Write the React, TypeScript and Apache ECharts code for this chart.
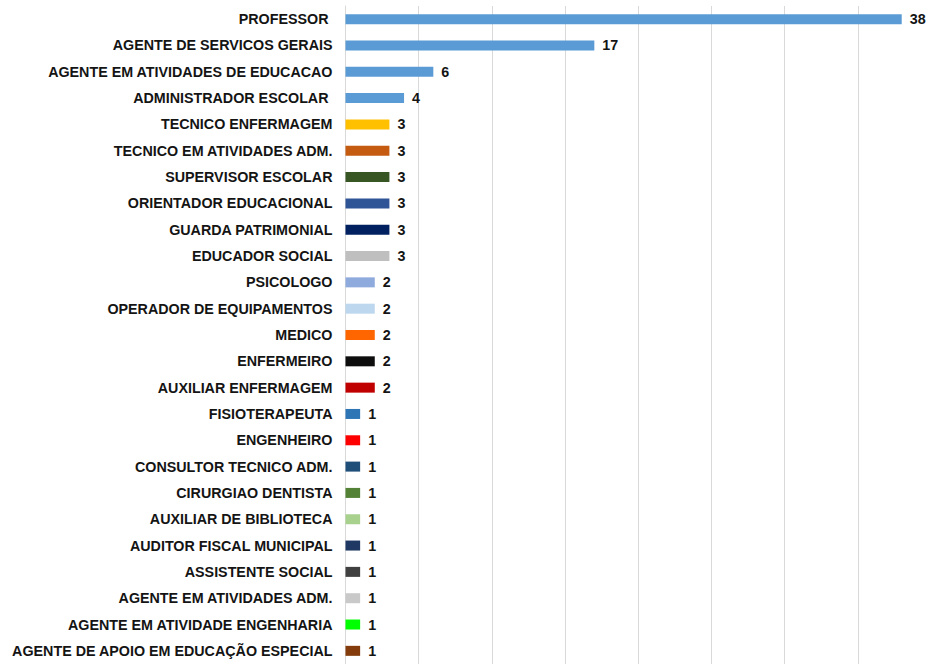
import React, { useEffect, useRef } from "react";
import * as echarts from "echarts";

const categories = [
  "PROFESSOR ",
  "AGENTE DE SERVICOS GERAIS",
  "AGENTE EM ATIVIDADES DE EDUCACAO",
  "ADMINISTRADOR ESCOLAR ",
  "TECNICO ENFERMAGEM",
  "TECNICO EM ATIVIDADES ADM.",
  "SUPERVISOR ESCOLAR",
  "ORIENTADOR EDUCACIONAL",
  "GUARDA PATRIMONIAL",
  "EDUCADOR SOCIAL",
  "PSICOLOGO",
  "OPERADOR DE EQUIPAMENTOS",
  "MEDICO",
  "ENFERMEIRO",
  "AUXILIAR ENFERMAGEM",
  "FISIOTERAPEUTA",
  "ENGENHEIRO",
  "CONSULTOR TECNICO ADM.",
  "CIRURGIAO DENTISTA",
  "AUXILIAR DE BIBLIOTECA",
  "AUDITOR FISCAL MUNICIPAL",
  "ASSISTENTE SOCIAL",
  "AGENTE EM ATIVIDADES ADM.",
  "AGENTE EM ATIVIDADE ENGENHARIA",
  "AGENTE DE APOIO EM EDUCAÇÃO ESPECIAL",
];

const values = [38, 17, 6, 4, 3, 3, 3, 3, 3, 3, 2, 2, 2, 2, 2, 1, 1, 1, 1, 1, 1, 1, 1, 1, 1];

const colors = [
  "#5B9BD5", "#5B9BD5", "#5B9BD5", "#5B9BD5",
  "#FFC000", "#C55A11", "#375623", "#2F5597", "#002060", "#BFBFBF",
  "#8FAADC", "#BDD7EE", "#FF6600", "#0D0D0D", "#C00000",
  "#2E75B6", "#FF0000", "#1F4E79", "#538135", "#A9D18E",
  "#203864", "#404040", "#C9C9C9", "#00FF00", "#843C0C",
];

export default function App() {
  const ref = useRef<HTMLDivElement>(null);
  useEffect(() => {
    if (!ref.current) return;
    const chart = echarts.init(ref.current, undefined, { renderer: "svg" });
    chart.setOption({
      animation: false,
      backgroundColor: "#ffffff",
      grid: { left: 345.5, top: 6, width: 586, height: 661, containLabel: false },
      xAxis: {
        type: "value",
        min: 0,
        max: 40,
        interval: 5,
        axisLabel: { show: false },
        axisLine: { show: false },
        axisTick: { show: false },
        splitLine: { show: true, lineStyle: { color: "#D9D9D9", width: 1 } },
      },
      yAxis: {
        type: "category",
        data: categories,
        inverse: true,
        axisLine: { show: true, lineStyle: { color: "#D9D9D9", width: 1 } },
        axisTick: { show: false },
        axisLabel: {
          margin: 13,
          color: "#141414",
          fontFamily: "Liberation Sans, Arial, sans-serif",
          fontWeight: "bold",
          fontSize: 14.3,
          interval: 0,
        },
      },
      series: [
        {
          type: "bar",
          data: values.map((v, i) => ({ value: v, itemStyle: { color: colors[i] } })),
          barWidth: 10,
          label: {
            show: true,
            position: "right",
            distance: 8,
            color: "#141414",
            fontFamily: "Liberation Sans, Arial, sans-serif",
            fontWeight: "bold",
            fontSize: 14.3,
          },
        },
      ],
    });
    return () => chart.dispose();
  }, []);
  return (
    <div
      ref={ref}
      style={{ position: "absolute", left: 0, top: 0, width: 931, height: 664 }}
    />
  );
}
